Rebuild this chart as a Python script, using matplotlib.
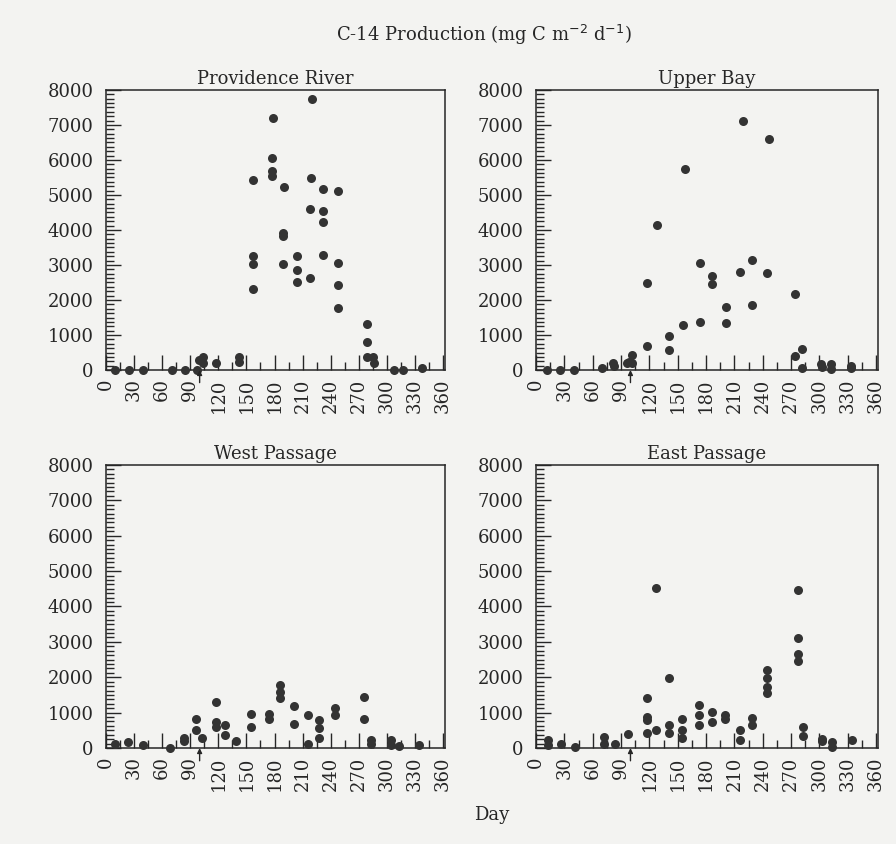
import numpy as np
import matplotlib.pyplot as plt
from matplotlib.ticker import MultipleLocator

plt.rcParams['font.family'] = ['DejaVu Serif']

# C-14 production by station: sampling day and rate (mg C m-2 d-1)
pr_day = [10, 25, 39, 71, 84, 97, 99, 104, 104, 118, 142, 142,
          157, 157, 157, 157, 178, 177, 177, 177, 190, 189, 189, 189,
          204, 204, 204, 220, 219, 218, 218, 232, 232, 232, 232,
          248, 248, 248, 248, 279, 279, 279, 285, 286, 308, 317, 338]
pr_val = [0, 0, 0, 0, 0, 0, 290, 380, 210, 190, 360, 240,
          5440, 3260, 3020, 2310, 7190, 6060, 5680, 5530, 5240, 3900, 3830, 3020,
          3260, 2860, 2500, 7740, 5480, 4610, 2640, 5160, 4540, 4240, 3290,
          5120, 3070, 2430, 1780, 1310, 790, 380, 380, 190, 0, 0, 70]

ub_day = [12, 25, 40, 70, 83, 82, 96, 102, 102, 98, 118, 118, 128,
          141, 141, 158, 156, 174, 174, 186, 186, 201, 201, 219, 216,
          229, 229, 247, 244, 274, 282, 274, 282, 302, 303, 312, 312, 333, 333]
ub_val = [0, 0, 0, 70, 110, 190, 210, 430, 210, 230, 680, 2490, 4140,
          970, 570, 5730, 1280, 3060, 1380, 2680, 2470, 1810, 1330, 7100, 2790,
          3140, 1870, 6600, 2780, 2170, 590, 400, 50, 160, 100, 160, 20, 110, 50]

wp_day = [10, 24, 39, 68, 83, 83, 96, 96, 103, 117, 117, 117, 127, 127, 139,
          155, 155, 174, 174, 186, 186, 186, 201, 201, 216, 216,
          228, 228, 228, 245, 245, 276, 276, 283, 283, 304, 304, 313, 334]
wp_val = [120, 170, 80, 0, 210, 270, 830, 500, 290, 1310, 740, 600, 650, 360, 190,
          960, 600, 970, 830, 1780, 1590, 1400, 1180, 690, 930, 120,
          800, 560, 290, 1120, 930, 1430, 830, 220, 120, 220, 80, 50, 80]

ep_day = [13, 13, 26, 41, 72, 72, 84, 97, 118, 118, 118, 118, 127, 127,
          141, 141, 141, 155, 155, 155, 173, 173, 173, 186, 186, 200, 200,
          216, 216, 229, 229, 244, 244, 244, 244, 277, 277, 277, 277,
          283, 283, 303, 303, 313, 313, 334]
ep_val = [220, 80, 120, 30, 310, 120, 120, 390, 1400, 880, 790, 430, 4530, 520,
          1970, 640, 430, 810, 520, 290, 1210, 930, 640, 1020, 740, 930, 830,
          500, 240, 860, 640, 2200, 1970, 1730, 1560, 4460, 3120, 2650, 2460,
          600, 330, 260, 200, 170, 30, 220]

stations = [
    ("Providence River", pr_day, pr_val),
    ("Upper Bay", ub_day, ub_val),
    ("West Passage", wp_day, wp_val),
    ("East Passage", ep_day, ep_val),
]
x_ticks = list(range(0, 361, 30))
y_ticks = list(range(0, 8001, 1000))
arrow_day = 100

bg = '#f3f3f1'
ink = '#262626'

fig = plt.figure(figsize=(8.96, 8.44), dpi=100, facecolor=bg)
boxes = [
    [0.1183, 0.5616, 0.3783, 0.3318],
    [0.5982, 0.5616, 0.3817, 0.3318],
    [0.1183, 0.1137, 0.3783, 0.3354],
    [0.5982, 0.1137, 0.3817, 0.3354],
]

for (name, day, val), box in zip(stations, boxes):
    ax = fig.add_axes(box, facecolor=bg)
    ax.plot(day, val, 'o', color='#333333', markersize=6.5,
            markeredgewidth=0, clip_on=False, zorder=3)
    ax.set_xlim(0, 362)
    ax.set_ylim(0, 8000)
    ax.set_xticks(x_ticks)
    ax.set_xticklabels([str(t) for t in x_ticks], rotation=90, fontsize=13, color=ink)
    ax.set_yticks(y_ticks)
    ax.set_yticklabels([str(t) for t in y_ticks], fontsize=13, color=ink)
    ax.xaxis.set_minor_locator(MultipleLocator(15))
    ax.yaxis.set_minor_locator(MultipleLocator(125))
    ax.tick_params(which='major', direction='in', length=10.5, width=1.0,
                   color=ink, top=False, right=False, pad=6)
    ax.tick_params(axis='y', which='major', pad=9)
    ax.tick_params(which='minor', direction='in', length=5.5, width=1.0,
                   color=ink, top=False, right=False)
    for s in ax.spines.values():
        s.set_linewidth(1.1)
        s.set_color(ink)
    ax.set_title(name, fontsize=13, color=ink, pad=4)
    # marker for the start of the sampling season
    ax.annotate('', xy=(arrow_day, 0), xycoords=('data', 'axes fraction'),
                xytext=(arrow_day, -0.045), textcoords=('data', 'axes fraction'),
                arrowprops=dict(arrowstyle='-|>', color=ink, lw=1.0,
                                mutation_scale=7, shrinkA=0, shrinkB=0),
                annotation_clip=False)

fig.text(0.54, 0.958, r'C-14 Production (mg C m$^{-2}$ d$^{-1}$)',
         ha='center', va='center', fontsize=13, color=ink)
fig.text(0.549, 0.034, 'Day', ha='center', va='center', fontsize=13, color=ink)

fig.savefig('out.png', dpi=100, facecolor=bg)
